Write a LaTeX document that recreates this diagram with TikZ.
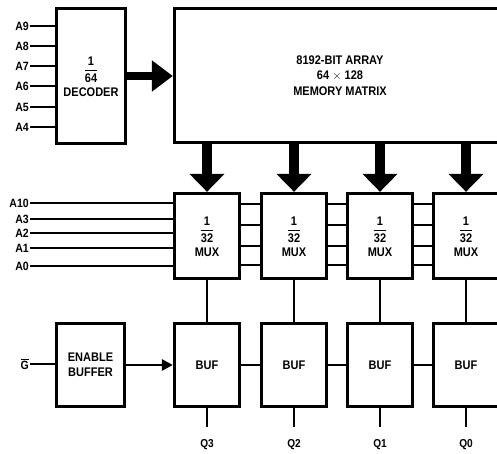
\documentclass[tikz,border=0pt]{standalone}
\usepackage{fontspec}
\setmainfont{Liberation Sans}[FakeStretch=0.88]
\usetikzlibrary{arrows.meta, positioning, calc}
\setlength{\arrayrulewidth}{1pt}
\newcommand{\frc}[2]{\begin{tabular}{@{}c@{}}#1\\[-1pt]\hline\noalign{\vskip1pt}#2\end{tabular}}

\begin{document}
\begin{tikzpicture}[x=1pt, y=-1pt,
  blk/.style={draw, line width=3.3pt, font=\fontsize{12.5}{15.5}\selectfont\bfseries,
    align=center, inner sep=0pt},
  pin/.style={font=\fontsize{12}{13}\selectfont\bfseries, anchor=east, inner sep=1pt},
  qlbl/.style={font=\fontsize{11.5}{12}\selectfont\bfseries, inner sep=1pt},
  wire/.style={line width=2.7pt},
  thinw/.style={line width=2pt},
  bus/.style={-{Triangle[length=21pt, width=30pt]}, line width=8pt},
  wbus/.style={-{Triangle[length=18pt, width=34pt]}, line width=10pt},
  arr/.style={-{Triangle[length=11pt, width=11pt]}, line width=2.7pt}
]
  \useasboundingbox (0,0) rectangle (497,453);

  % Decoder and array
  \node[blk, minimum width=69pt, minimum height=135pt] (dec) at (91,76)
    {\frc{1}{64}\\DECODER};
  \node[blk, minimum width=331pt, minimum height=134pt] (mem) at (340,75.5)
    {8192-BIT ARRAY\\64 $\times$ 128\\MEMORY MATRIX};
  \draw[bus] (dec.east) -- (mem.west |- dec.east);

  % Row address inputs
  \foreach \n/\y in {9/26, 8/46, 7/66, 6/86, 5/107, 4/127} {
    \node[pin] (a\n) at (30,\y) {A\n};
    \draw[wire] (a\n.east) -- (dec.west |- a\n.east);
  }

  % Multiplexers and buffers
  \foreach \i/\x/\q in {1/207/3, 2/294/2, 3/380/1, 4/466/0} {
    \node[blk, minimum width=65pt, minimum height=85pt] (mux\i) at (\x,236)
      {\frc{1}{32}\\MUX};
    \node[blk, minimum width=65pt, minimum height=83pt] (buf\i) at (\x,365)
      {BUF};
    \draw[wbus] (mem.south -| mux\i) -- (mux\i.north);
    \draw[thinw] (mux\i.south) -- (buf\i.north);
    \draw[thinw] (buf\i.south) -- ++(0,19) coordinate (out\i);
    \node[qlbl] (q\i) at (\x,445) {Q\q};
  }

  % Links between neighbours
  \foreach \i/\j in {1/2, 2/3, 3/4} {
    \foreach \y in {204, 225, 246, 265}
      \draw[wire] (mux\i.east |- 0,\y) -- (mux\j.west |- 0,\y);
    \draw[thinw] (buf\i.east) -- (buf\j.west);
  }

  % Column address inputs
  \foreach \n/\y in {10/203, 3/219, 2/233, 1/248, 0/266} {
    \node[pin] (c\n) at (30,\y) {A\n};
    \draw[wire] (c\n.east) -- (mux1.west |- c\n.east);
  }

  % Output enable
  \node[blk, minimum width=68pt, minimum height=83pt] (en) at (90.5,365)
    {ENABLE\\BUFFER};
  \node[pin] (g) at (30,364) {$\overline{\mbox{G}}$};
  \draw[wire] (g.east) -- (en.west |- g.east);
  \draw[arr] (en.east) -- (buf1.west);
\end{tikzpicture}
\end{document}
